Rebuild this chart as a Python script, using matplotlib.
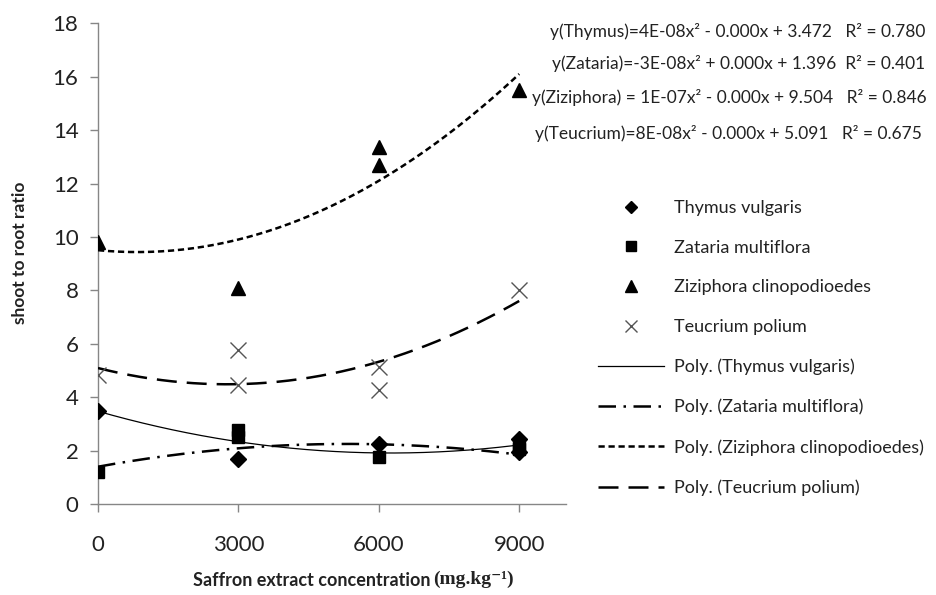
import numpy as np
import matplotlib
matplotlib.use('Agg')
import matplotlib.pyplot as plt
from matplotlib.lines import Line2D

plt.rcParams['font.family'] = ['Lato', 'DejaVu Sans']

# concentration doses (mg/kg)
doses = [0, 3000, 6000, 9000]

thymus_x = [0, 3000, 6000, 9000, 9000]
thymus_y = [3.5, 1.7, 2.25, 2.45, 1.95]
zataria_x = [0, 3000, 3000, 6000, 9000, 9000]
zataria_y = [1.2, 2.77, 2.5, 1.75, 2.25, 2.05]
ziziphora_x = [0, 3000, 6000, 6000, 9000]
ziziphora_y = [9.8, 8.08, 13.38, 12.7, 15.5]
teucrium_x = [0, 3000, 3000, 6000, 6000, 9000]
teucrium_y = [4.83, 5.77, 4.46, 5.14, 4.27, 8.0]

# polynomial trendlines y = a x^2 + b x + c
trend_a = [4e-8, -3e-8, 1e-7, 8e-8]
trend_b = [-5.0e-4, 3.2e-4, -1.67e-4, -4.41e-4]
trend_c = [3.472, 1.396, 9.504, 5.091]

species = ['Thymus vulgaris', 'Zataria multiflora', 'Ziziphora clinopodioedes', 'Teucrium polium']
equations = ['y(Thymus)=4E-08x\u00b2 - 0.000x + 3.472   R\u00b2 = 0.780',
             'y(Zataria)=-3E-08x\u00b2 + 0.000x + 1.396  R\u00b2 = 0.401',
             'y(Ziziphora) = 1E-07x\u00b2 - 0.000x + 9.504   R\u00b2 = 0.846',
             'y(Teucrium)=8E-08x\u00b2 - 0.000x + 5.091   R\u00b2 = 0.675']

W, H = 936, 595


def fx(px):
    return px / W


def fy(py):
    return 1 - py / H


fig = plt.figure(figsize=(W / 100, H / 100), dpi=100)
ax = fig.add_axes([fx(98), fy(504), fx(566) - fx(98), fy(23.3) - fy(504)])

# points
ax.plot(thymus_x, thymus_y, 'D', color='black', ms=8.5, ls='none', zorder=5)
ax.plot(zataria_x, zataria_y, 's', color='black', ms=9, ls='none', zorder=5)
ax.plot(ziziphora_x, ziziphora_y, '^', color='black', ms=10, ls='none', zorder=5)
ax.plot(teucrium_x, teucrium_y, 'x', color='#555555', ms=11, mew=1.0, ls='none', zorder=5)

# trend lines
styles = [dict(ls='-', lw=0.9),
          dict(ls=(0, (7, 3, 1, 3)), lw=1.8),
          dict(ls=(0, (2.5, 1.5)), lw=1.8),
          dict(ls=(0, (8, 4)), lw=1.8)]
xs = np.linspace(0, 9000, 200)
for a, b, c, st in zip(trend_a, trend_b, trend_c, styles):
    ax.plot(xs, np.polyval([a, b, c], xs), color='black', **st, zorder=4)

ax.set_xlim(0, 10000)
ax.set_ylim(0, 18)
ax.set_xticks(doses)
ax.set_yticks(np.arange(0, 19, 2))
for s in ['top', 'right']:
    ax.spines[s].set_visible(False)
for s in ['left', 'bottom']:
    ax.spines[s].set_color('#868686')
    ax.spines[s].set_linewidth(1)
ax.tick_params(axis='both', colors='#868686', labelcolor='#222222', labelsize=16, length=6, width=1)
ax.tick_params(axis='y', pad=8)
ax.tick_params(axis='x', pad=16)

# axis titles
fig.text(fx(20), fy(253), 'shoot to root ratio', rotation=90, ha='center', va='center',
         fontsize=12.5, fontweight='bold', color='#222222')
t1 = fig.text(fx(193), fy(580), 'Saffron extract concentration', ha='left', va='center',
              fontsize=13, fontweight='bold', color='#222222')
ax.annotate('(mg.kg\u207b\u00b9)', xy=(1, 0), xycoords=t1, xytext=(2, 0), textcoords='offset points',
            ha='left', va='bottom', fontsize=14, fontweight='bold', color='#222222',
            family=['Liberation Serif', 'DejaVu Serif'])

# trendline equations
eq_x = [550, 552, 532, 535]
eq_y = [32, 63, 98, 133]
for txt, x, y in zip(equations, eq_x, eq_y):
    fig.text(fx(x), fy(y), txt, ha='left', va='center', fontsize=12.5, color='#222222')

# legend
handles = [Line2D([], [], marker='D', color='black', ms=6, ls='none'),
           Line2D([], [], marker='s', color='black', ms=7, ls='none'),
           Line2D([], [], marker='^', color='black', ms=8, ls='none'),
           Line2D([], [], marker='x', color='#555555', ms=9, mew=1.0, ls='none')]
labels = list(species)
for sp, st in zip(species, styles):
    handles.append(Line2D([], [], color='black', **st))
    labels.append('Poly. (' + sp + ')')
fig.legend(handles, labels, loc='upper left', bbox_to_anchor=(fx(598), fy(200)),
           frameon=False, fontsize=13, handlelength=3.65, handletextpad=0.55,
           labelspacing=1.31, borderaxespad=0, borderpad=0, labelcolor='#222222')

fig.savefig('out.png', dpi=100)
